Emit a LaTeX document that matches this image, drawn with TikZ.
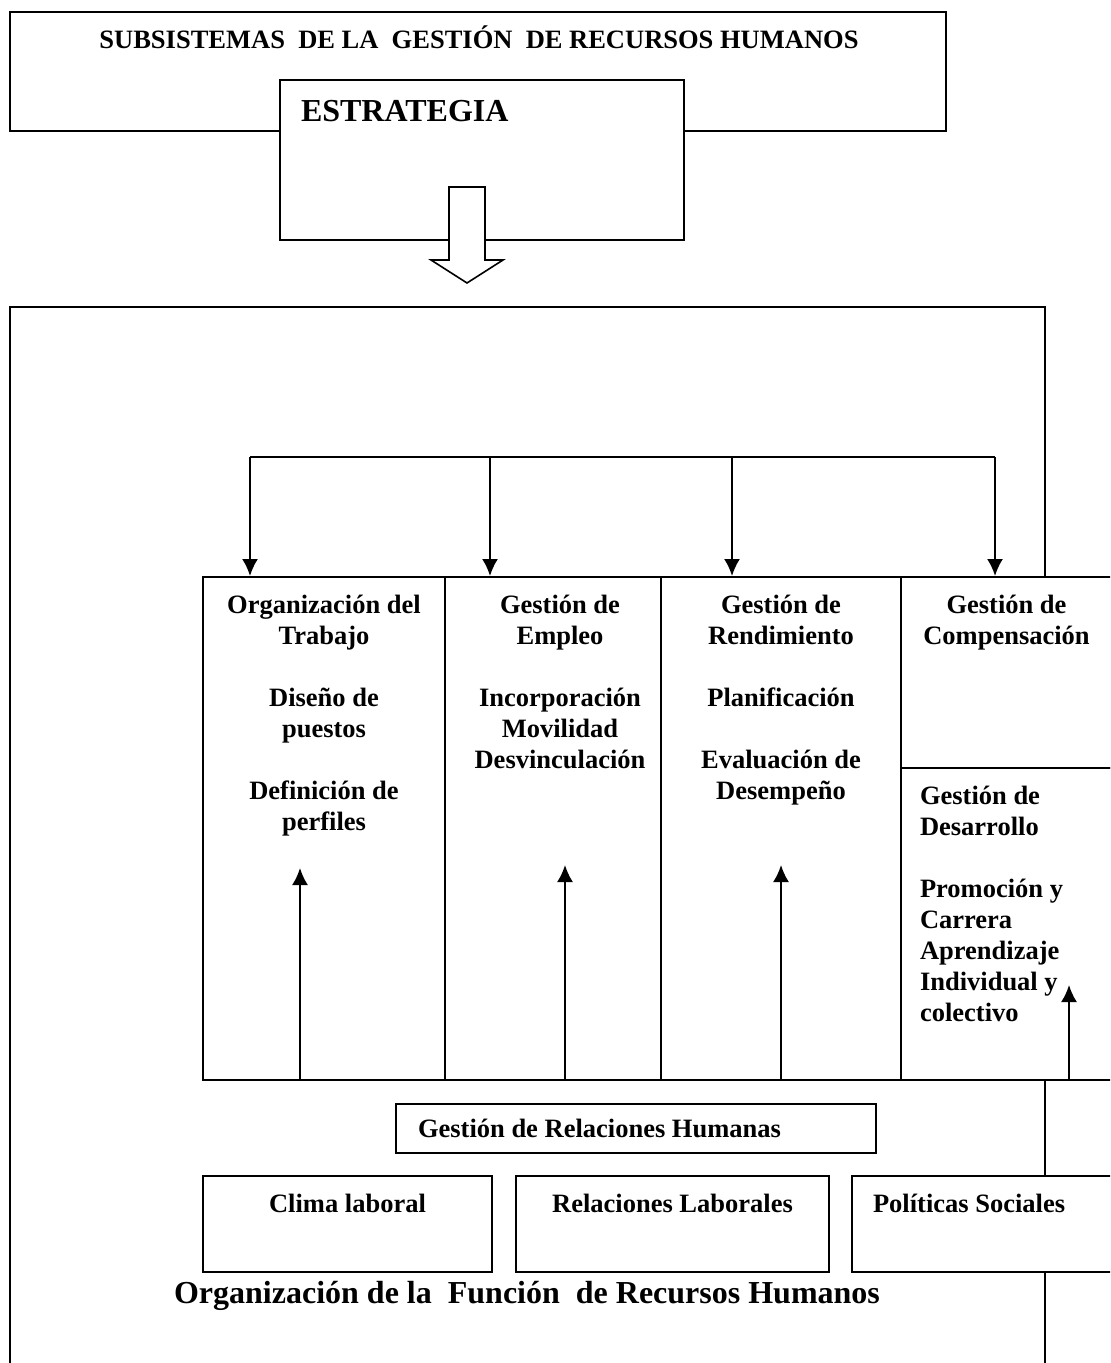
\documentclass[tikz,border=0pt]{standalone}
\usepackage{fontspec}
\setmainfont{Liberation Serif}
\usetikzlibrary{positioning,fit,arrows.meta}

\begin{document}
\begin{tikzpicture}[x=0.5pt,y=-0.5pt,line width=1pt,
	caja/.style={draw,fill=white,inner sep=0pt},
	texto/.style={font=\bfseries\fontsize{13.25}{15.5}\selectfont,inner sep=0pt,align=center},
	grande/.style={font=\bfseries\fontsize{16}{19}\selectfont},
	flecha/.style={-{Latex[length=8.5pt,width=8pt]}}]
		\useasboundingbox (0,0) rectangle (1110,1363);
		\clip (0,0) rectangle (1110,1363);
		\draw[line width=0.8pt] (10,1370) -- (10,307) -- (1045,307) -- (1045,1370);
		\node[caja,fit={(10,12) (946,131)}] (v1) {};
		\node[texto] (v1t) at (479,37) {SUBSISTEMAS\ \ DE LA\ \ GESTIÓN\ \ DE RECURSOS HUMANOS};
		\node[caja,fit={(280,80) (684,240)}] (v2) {};
		\node[texto,grande,anchor=west] (v2t) at (300,111) {ESTRATEGIA};
		\draw[line width=0.8pt,fill=white] (449,187) -- (485,187) -- (485,260) -- (503,260) -- (467,283) -- (431,260) -- (449,260) -- cycle;
		\node[caja,fit={(203,577) (445,1080)}] (c1) {};
		\node[caja,fit={(445,577) (661,1080)}] (c2) {};
		\node[caja,fit={(661,577) (901,1080)}] (c3) {};
		\node[caja,fit={(901,577) (1120,768)}] (c4) {};
		\node[caja,fit={(901,768) (1120,1080)}] (c5) {};
		\node[texto,below=9pt of c1.north] (c1t) {Organización del\\Trabajo\\[15.5pt]Diseño de\\puestos\\[15.5pt]Definición de\\perfiles};
		\node[texto,below=9pt of c2.north,xshift=3.5pt] (c2t) {Gestión de\\Empleo\\[15.5pt]Incorporación\\Movilidad\\Desvinculación};
		\node[texto,below=9pt of c3.north] (c3t) {Gestión de\\Rendimiento\\[15.5pt]Planificación\\[15.5pt]Evaluación de\\Desempeño};
		\node[texto,below=9pt of c4.north,xshift=-2pt] (c4t) {Gestión de\\Compensación};
		\node[texto,align=left,below right=9pt and 9.5pt of c5.north west] (c5t) {Gestión de\\Desarrollo\\[15.5pt]Promoción y\\Carrera\\Aprendizaje\\Individual y\\colectivo};
		\coordinate (b1) at (250,457);
		\coordinate (b2) at (490,457);
		\coordinate (b3) at (732,457);
		\coordinate (b4) at (995,457);
		\draw (b1) -- (b4);
		\draw[flecha] (b1) -- (b1 |- c1.north);
		\draw[flecha] (b2) -- (b2 |- c2.north);
		\draw[flecha] (b3) -- (b3 |- c3.north);
		\draw[flecha] (b4) -- (b4 |- c4.north);
		\coordinate (u1) at (300,868);
		\coordinate (u2) at (565,865);
		\coordinate (u3) at (781,865);
		\coordinate (u4) at (1069,985);
		\draw[flecha] (u1 |- c1.south) -- (u1);
		\draw[flecha] (u2 |- c2.south) -- (u2);
		\draw[flecha] (u3 |- c3.south) -- (u3);
		\draw[flecha] (u4 |- c5.south) -- (u4);
		\node[caja,fit={(396,1104) (876,1153)}] (r1) {};
		\node[texto,right=11pt of r1.west] (r1t) {Gestión de Relaciones Humanas};
		\node[caja,fit={(203,1176) (492,1272)}] (r2) {};
		\node[texto,below=9pt of r2.north] (r2t) {Clima laboral};
		\node[caja,fit={(516,1176) (829,1272)}] (r3) {};
		\node[texto,below=9pt of r3.north] (r3t) {Relaciones Laborales};
		\node[caja,fit={(852,1176) (1120,1272)}] (r4) {};
		\node[texto,below right=9pt and 10.5pt of r4.north west] (r4t) {Políticas Sociales};
		\node[texto,grande] (v3) at (527,1296) {Organización de la\ \ Función\ \ de Recursos Humanos};
\end{tikzpicture}
\end{document}
